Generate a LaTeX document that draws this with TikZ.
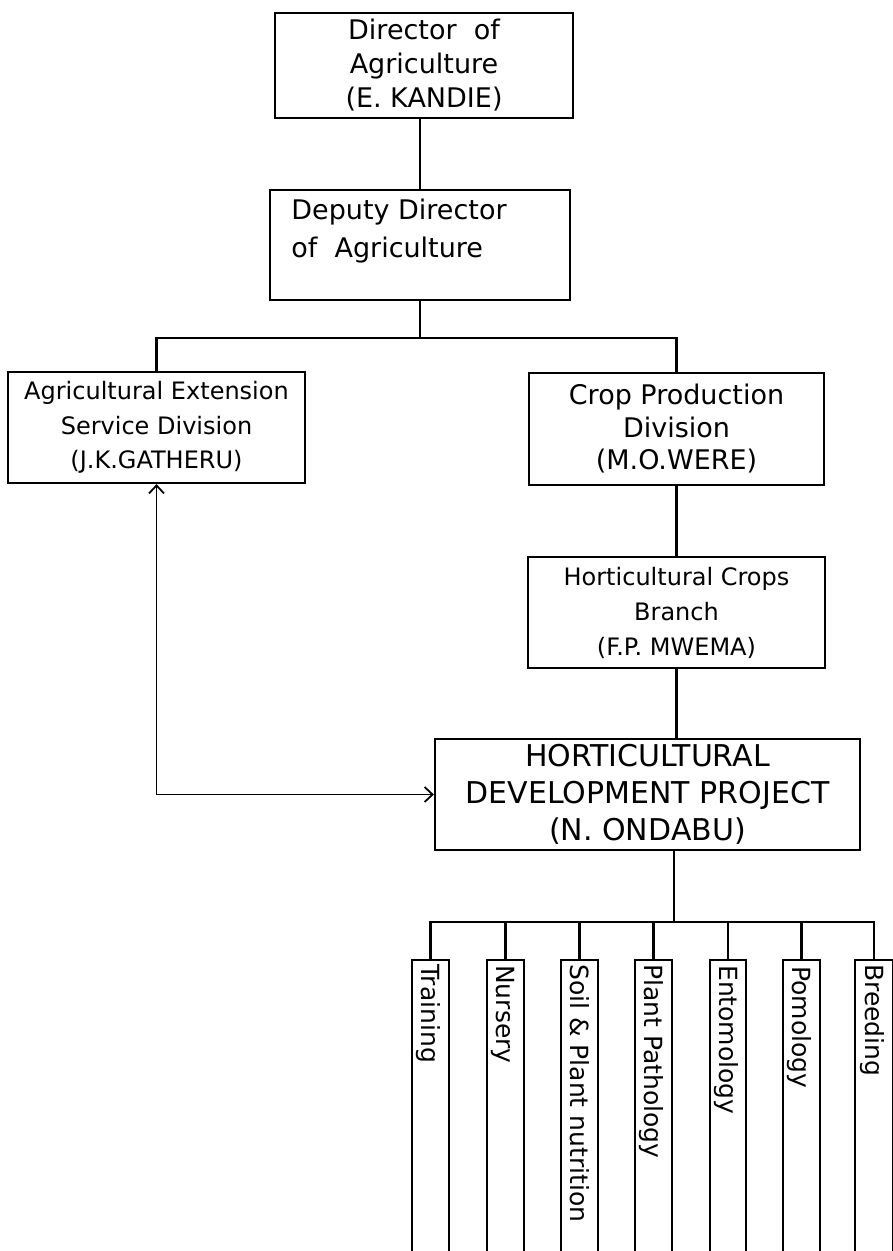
\documentclass[tikz,border=0pt]{standalone}
\usepackage{fontspec}
\setmainfont{DejaVu Sans}
\usetikzlibrary{arrows.meta}
\begin{document}
\begin{tikzpicture}[x=1pt,y=-1pt,
  box/.style={draw, line width=2.2pt, inner sep=0pt, align=center},
  colbox/.style={inner sep=0pt, minimum width=36pt, minimum height=291pt},
  coltext/.style={inner sep=0pt, rotate=-90, anchor=base west, font=\fontsize{25}{30}\selectfont},
  link/.style={line width=2.2pt},
  biarrow/.style={line width=1.8pt, {Straight Barb[length=8pt,width=15pt]}-{Straight Barb[length=8pt,width=15pt]}}
]
\useasboundingbox (0,0) rectangle (893,1251);

% top boxes
\node[box, minimum width=298pt, minimum height=105pt, font=\fontsize{27}{34}\selectfont]
  (dir) at (424,65.5) {Director\ \ of\\Agriculture\\(E. KANDIE)};
\node[box, minimum width=300pt, minimum height=110pt] (dep) at (420,245) {};
\node[inner sep=0pt, align=left, font=\fontsize{27}{38}\selectfont]
  (deptxt) at (399,231) {Deputy Director\\of\ \ Agriculture};

\node[box, minimum width=297pt, minimum height=111pt, font=\fontsize{24}{34.5}\selectfont]
  (ext) at (156.5,427.5) {Agricultural Extension\\Service Division\\(J.K.GATHERU)};
\node[box, minimum width=295pt, minimum height=112pt, font=\fontsize{27}{32.5}\selectfont]
  (crop) at (676.5,429) {Crop Production\\Division\\(M.O.WERE)};
\node[box, minimum width=297pt, minimum height=111pt, font=\fontsize{24}{35}\selectfont]
  (hcb) at (676.5,612.5) {Horticultural Crops\\Branch\\(F.P. MWEMA)};
\node[box, minimum width=425pt, minimum height=111pt, font=\fontsize{30}{37}\selectfont]
  (hdp) at (647.5,794.5) {HORTICULTURAL\\DEVELOPMENT PROJECT\\(N. ONDABU)};

% connectors of the upper part
\draw[link] (dep.north) -- (dep.north |- dir.south);
\coordinate (bus1) at (420,338);
\draw[link] (dep.south) -- (bus1);
\draw[link] (ext.north) |- (bus1) -| (crop.north);
\draw[link] (crop.south) -- (hcb.north);
\draw[link] (hcb.south) -- (hcb.south |- hdp.north);
\draw[biarrow] (ext.south) |- (hdp.west);

% columns
\node[colbox] (c1) at (430.5,1105.5) {};
\node[colbox] (c2) at (505.5,1105.5) {};
\node[colbox] (c3) at (579.5,1105.5) {};
\node[colbox] (c4) at (653.5,1105.5) {};
\node[colbox] (c5) at (728,1105.5) {};
\node[colbox] (c6) at (801.5,1105.5) {};
\node[colbox, minimum width=38pt] (c7) at (874,1105.5) {};

\foreach \c in {c1,c2,c3,c4,c5,c6,c7}{
  \draw[link] (\c.south west) -- (\c.north west) -- (\c.north east) -- (\c.south east);
}

\node[coltext] (t1) at (421.5,964) {Training};
\node[coltext] (t2) at (496.5,965) {Nursery};
\node[coltext] (t3) at (570.5,964) {Soil \& Plant nutrition};
\node[coltext] (t4) at (644.5,964) {Plant Pathology};
\node[coltext] (t5) at (719,965) {Entomology};
\node[coltext] (t6) at (792.5,966) {Pomology};
\node[coltext] (t7) at (865,964) {Breeding};

\coordinate (bus2) at (674,922);
\draw[link] (bus2 |- hdp.south) -- (bus2);
\draw[link] (c1.north) |- (bus2) -| (c7.north);
\foreach \c in {c2,c3,c4,c5,c6}{
  \draw[link] (bus2) -| (\c.north);
}
\end{tikzpicture}
\end{document}
